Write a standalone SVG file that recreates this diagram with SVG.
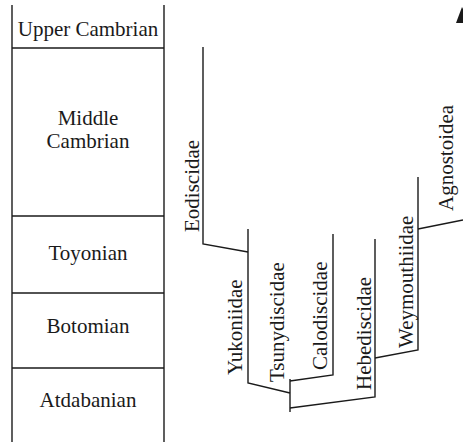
<svg xmlns="http://www.w3.org/2000/svg" width="463" height="442" viewBox="0 0 463 442">
<style>
.ln{stroke:#1a1a1a;stroke-width:1.4;fill:none}
.t{font-family:"Liberation Serif","Times New Roman",serif;font-size:21px;fill:#1a1a1a}
.c{text-anchor:middle}
</style>
<rect width="463" height="442" fill="#fff"/>
<g id="timescale">
<line class="ln" x1="12" y1="5" x2="12" y2="442"/>
<line class="ln" x1="164" y1="5" x2="164" y2="442"/>
<line class="ln" x1="12" y1="48" x2="164" y2="48"/>
<line class="ln" x1="12" y1="216" x2="164" y2="216"/>
<line class="ln" x1="12" y1="293" x2="164" y2="293"/>
<line class="ln" x1="12" y1="368" x2="164" y2="368"/>
</g>
<g id="upper-cambrian"><text class="t c" x="88" y="36">Upper Cambrian</text></g>
<g id="middle-cambrian"><text class="t c" x="88" y="125">Middle</text><text class="t c" x="88" y="148">Cambrian</text></g>
<g id="toyonian"><text class="t c" x="88" y="260">Toyonian</text></g>
<g id="botomian"><text class="t c" x="88" y="333">Botomian</text></g>
<g id="atdabanian"><text class="t c" x="88" y="407">Atdabanian</text></g>
<g id="connectors">
<polyline class="ln" points="203,47 203,244 248,252"/>
<polyline class="ln" points="248,229 248,383 290,393"/>
<line class="ln" x1="290" y1="379" x2="290" y2="412"/>
<polyline class="ln" points="290,381 333,375 333,234"/>
<polyline class="ln" points="290,408 375,397 375,239"/>
<polyline class="ln" points="375,358 418,350 418,177"/>
<line class="ln" x1="418" y1="229" x2="463" y2="220"/>
</g>
<g id="eodiscidae"><text class="t" transform="translate(199,232) rotate(-90)">Eodiscidae</text></g>
<g id="yukoniidae"><text class="t" transform="translate(242,375) rotate(-90)">Yukoniidae</text></g>
<g id="tsunydiscidae"><text class="t" transform="translate(284,382) rotate(-90)">Tsunydiscidae</text></g>
<g id="calodiscidae"><text class="t" transform="translate(327,370) rotate(-90)">Calodiscidae</text></g>
<g id="hebediscidae"><text class="t" transform="translate(371,390) rotate(-90)">Hebediscidae</text></g>
<g id="weymouthiidae"><text class="t" transform="translate(413,348) rotate(-90)">Weymouthiidae</text></g>
<g id="agnostoidea"><text class="t" transform="translate(453,211) rotate(-90)">Agnostoidea</text></g>
<g id="marker"><polygon points="456,23 462,7 470,23" fill="#1a1a1a"/></g>
</svg>
